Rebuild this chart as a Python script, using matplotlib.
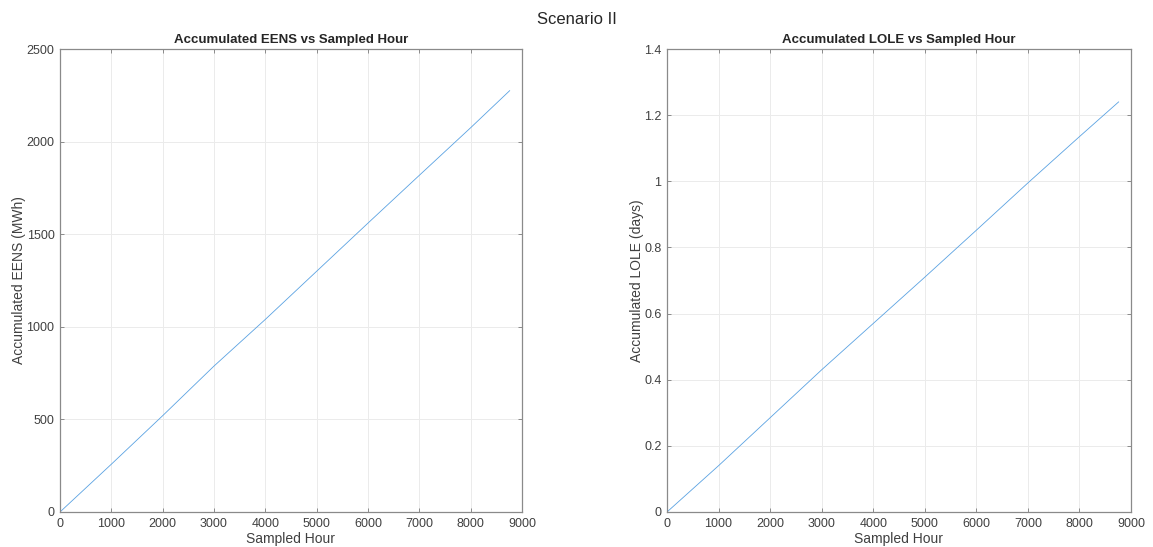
import matplotlib.pyplot as plt
import numpy as np

plt.rcParams['font.family'] = ['Liberation Sans', 'DejaVu Sans']

# values
hours = [0, 1000, 2000, 3000, 4000, 5000, 6000, 7000, 8000, 8760]
eens = [0, 258, 520, 788, 1040, 1300, 1560, 1818, 2075, 2275]
lole = [0, 0.14, 0.285, 0.43, 0.57, 0.71, 0.852, 0.995, 1.135, 1.24]

x_ticks = np.arange(0, 9001, 1000)
eens_ticks = np.arange(0, 2501, 500)
lole_ticks = [0, 0.2, 0.4, 0.6, 0.8, 1, 1.2, 1.4]
lole_labels = ['0', '0.2', '0.4', '0.6', '0.8', '1', '1.2', '1.4']

txt = '#404040'
edge = '#8a8a8a'
line_col = '#5aa2e2'

fig = plt.figure(figsize=(11.53, 5.47), dpi=100)
W, H = 1153, 547
ax1 = fig.add_axes([60 / W, 1 - 512 / H, 462 / W, 463 / H])
ax2 = fig.add_axes([667 / W, 1 - 512 / H, 464 / W, 463 / H])

panels = [
    (ax1, eens, 'Accumulated EENS vs Sampled Hour', 'Accumulated EENS (MWh)', eens_ticks, None, 2500),
    (ax2, lole, 'Accumulated LOLE vs Sampled Hour', 'Accumulated LOLE (days)', lole_ticks, lole_labels, 1.4),
]

for ax, vals, title, ylabel, yt, ylab, ymax in panels:
    ax.plot(hours, vals, color=line_col, linewidth=0.6)
    ax.set_xlim(0, 9000)
    ax.set_ylim(0, ymax)
    ax.set_xticks(x_ticks)
    ax.set_yticks(yt)
    if ylab is not None:
        ax.set_yticklabels(ylab)
    ax.grid(True, color='#ebebeb', linewidth=0.7)
    ax.set_axisbelow(True)
    ax.tick_params(direction='in', top=True, right=True, length=3, width=0.7,
                   colors=edge, labelcolor=txt, labelsize=9, pad=4)
    for s in ax.spines.values():
        s.set_color(edge)
        s.set_linewidth(0.9)
    ax.set_title(title, fontsize=9.5, fontweight='bold', color='#262626', pad=4)
    ax.set_xlabel('Sampled Hour', fontsize=10, color=txt, labelpad=2)
    ax.set_ylabel(ylabel, fontsize=10, color=txt, labelpad=0)

fig.suptitle('Scenario II', fontsize=12, color='#262626', y=0.978)

fig.savefig('out.png', dpi=100)
